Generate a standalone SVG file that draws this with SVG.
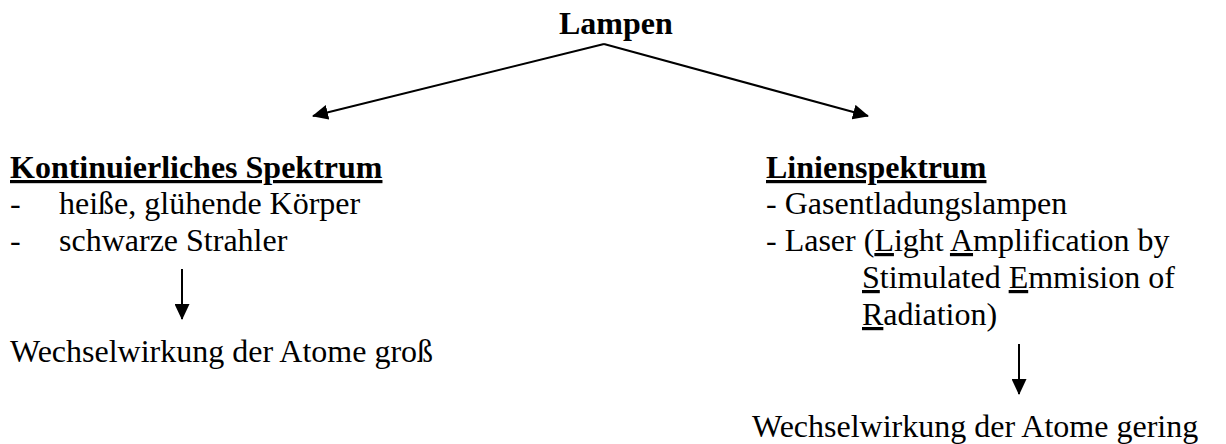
<svg xmlns="http://www.w3.org/2000/svg" width="1226" height="444" viewBox="0 0 1226 444">
<style>
text{font-family:"Liberation Serif","Times New Roman",serif;font-size:32px;fill:#000}
.b{font-weight:bold}
.u{text-decoration:underline}
.c line{stroke:#000;stroke-width:2}
</style>
<defs>
<marker id="ah" viewBox="0 0 16 15" refX="15" refY="7.5" markerWidth="16" markerHeight="15" markerUnits="userSpaceOnUse" orient="auto">
<path d="M0,0L16,7.5L0,15z" fill="#000"/>
</marker>
</defs>
<rect width="1226" height="444" fill="#fff"/>
<g id="lampen"><text x="559" y="34" class="b">Lampen</text></g>
<g id="kontinuierlich">
<text x="10" y="178" class="b u">Kontinuierliches Spektrum</text>
<text x="10" y="214">-</text><text x="59" y="214">heiße, glühende Körper</text>
<text x="10" y="251">-</text><text x="59" y="251">schwarze Strahler</text>
</g>
<g id="gross"><text x="10" y="362">Wechselwirkung der Atome groß</text></g>
<g id="linien">
<text x="766" y="178" class="b u">Linienspektrum</text>
<text x="766" y="214">- Gasentladungslampen</text>
<text x="766" y="251">- Laser (<tspan class="u">L</tspan>ight <tspan class="u">A</tspan>mplification by</text>
<text x="862" y="288"><tspan class="u">S</tspan>timulated <tspan class="u">E</tspan>mmision of</text>
<text x="862" y="325"><tspan class="u">R</tspan>adiation)</text>
</g>
<g id="gering"><text x="752" y="437">Wechselwirkung der Atome gering</text></g>
<g class="c" id="connectors">
<line x1="604" y1="44" x2="313" y2="116" marker-end="url(#ah)"/>
<line x1="604" y1="44" x2="868" y2="116" marker-end="url(#ah)"/>
<line x1="182" y1="269" x2="182" y2="319" marker-end="url(#ah)"/>
<line x1="1019" y1="344" x2="1019" y2="394" marker-end="url(#ah)"/>
</g>
</svg>
